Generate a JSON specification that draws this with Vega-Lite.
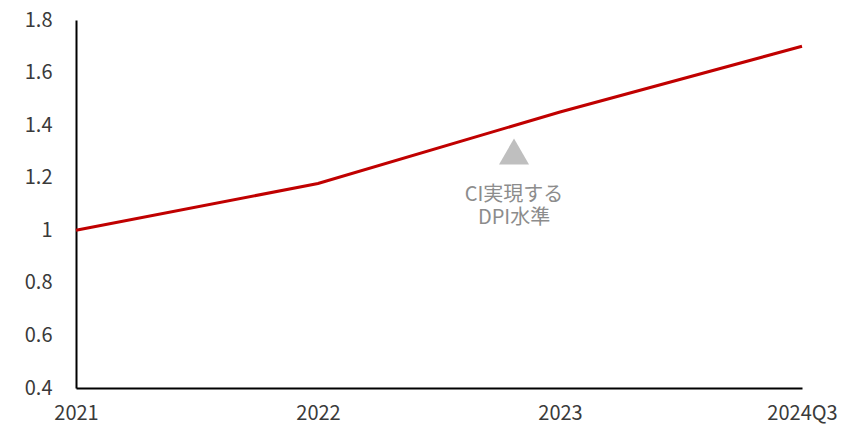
{
  "$schema": "https://vega.github.io/schema/vega-lite/v6.json",
  "width": 726,
  "height": 368,
  "autosize": {"type": "none"},
  "padding": {"left": 76, "top": 20, "right": 61, "bottom": 42},
  "config": {
    "view": {"stroke": null},
    "font": "Noto Sans CJK JP",
    "axis": {"grid": false, "ticks": false, "domainColor": "#000000", "domainWidth": 2, "labelFont": "Noto Sans CJK JP", "labelFontSize": 20, "labelColor": "#3a3a3a", "title": null}
  },
  "datasets": {
    "series": [
      {"idx": 0, "period": "2021", "value": 1.0},
      {"idx": 1, "period": "2022", "value": 1.178},
      {"idx": 2, "period": "2023", "value": 1.45},
      {"idx": 3, "period": "2024Q3", "value": 1.70}
    ],
    "marker": [
      {"idx": 1.81, "value": 1.30, "label": "CI実現する\nDPI水準", "labelValue": 1.136}
    ]
  },
  "layer": [
    {
      "data": {"name": "series"},
      "mark": {"type": "line", "color": "#c00000", "strokeWidth": 3},
      "encoding": {
        "x": {"field": "idx", "type": "quantitative", "scale": {"domain": [0, 3], "nice": false, "zero": false},
          "axis": {"values": [0, 1, 2, 3], "labelExpr": "datum.value == 0 ? '2021' : datum.value == 1 ? '2022' : datum.value == 2 ? '2023' : '2024Q3'", "labelPadding": 15, "labelAlign": "center", "labelBound": false, "labelOverlap": false, "labelFlush": false}},
        "y": {"field": "value", "type": "quantitative", "scale": {"domain": [0.4, 1.8], "nice": false, "zero": false},
          "axis": {"values": [0.4, 0.6, 0.8, 1.0, 1.2, 1.4, 1.6, 1.8], "format": ".1~f", "labelPadding": 24, "labelFlush": false, "labelOverlap": false}}
      }
    },
    {
      "data": {"name": "marker"},
      "mark": {"type": "point", "shape": "triangle-up", "filled": true, "color": "#bfbfbf", "opacity": 1, "size": 900},
      "encoding": {
        "x": {"field": "idx", "type": "quantitative"},
        "y": {"field": "value", "type": "quantitative"}
      }
    },
    {
      "data": {"name": "marker"},
      "transform": [{"calculate": "split(datum.label, '\\n')", "as": "lines"}],
      "mark": {"type": "text", "color": "#8c8c8c", "fontSize": 20, "baseline": "middle", "align": "center", "lineHeight": 23},
      "encoding": {
        "x": {"field": "idx", "type": "quantitative"},
        "y": {"field": "labelValue", "type": "quantitative"},
        "text": {"field": "lines"}
      }
    }
  ]
}
